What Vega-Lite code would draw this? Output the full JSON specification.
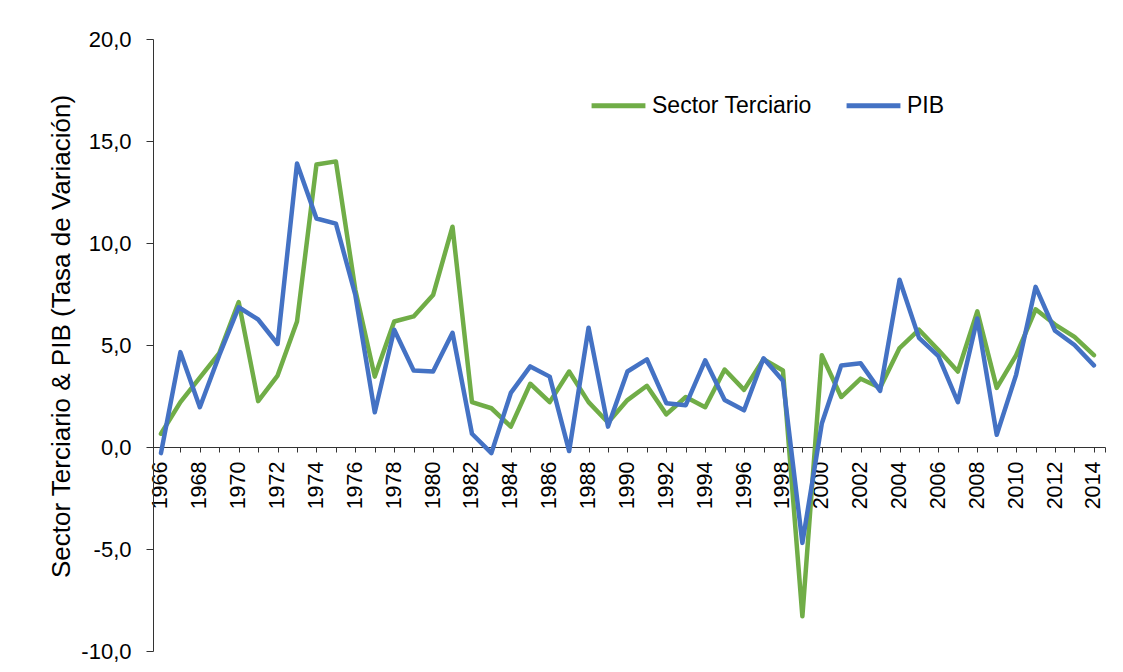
{
  "$schema": "https://vega.github.io/schema/vega-lite/v6.json",
  "width": 952,
  "height": 612,
  "autosize": {"type": "none"},
  "padding": {"left": 153, "top": 39, "right": 18, "bottom": 21},
  "background": "white",
  "config": {
    "view": {"stroke": null},
    "font": "Liberation Sans",
    "axis": {"grid": false, "domainColor": "#333333", "tickColor": "#333333", "labelColor": "#000000", "titleColor": "#000000", "labelFont": "Liberation Sans", "titleFont": "Liberation Sans", "titleFontWeight": "normal"}
  },
  "data": {"values": [
    {"year": 1966, "serie": "Sector Terciario", "valor": 0.65}, {"year": 1966, "serie": "PIB", "valor": -0.3},
    {"year": 1967, "serie": "Sector Terciario", "valor": 2.2}, {"year": 1967, "serie": "PIB", "valor": 4.65},
    {"year": 1968, "serie": "Sector Terciario", "valor": 3.4}, {"year": 1968, "serie": "PIB", "valor": 1.95},
    {"year": 1969, "serie": "Sector Terciario", "valor": 4.6}, {"year": 1969, "serie": "PIB", "valor": 4.5},
    {"year": 1970, "serie": "Sector Terciario", "valor": 7.1}, {"year": 1970, "serie": "PIB", "valor": 6.85},
    {"year": 1971, "serie": "Sector Terciario", "valor": 2.25}, {"year": 1971, "serie": "PIB", "valor": 6.25},
    {"year": 1972, "serie": "Sector Terciario", "valor": 3.5}, {"year": 1972, "serie": "PIB", "valor": 5.05},
    {"year": 1973, "serie": "Sector Terciario", "valor": 6.15}, {"year": 1973, "serie": "PIB", "valor": 13.9},
    {"year": 1974, "serie": "Sector Terciario", "valor": 13.85}, {"year": 1974, "serie": "PIB", "valor": 11.2},
    {"year": 1975, "serie": "Sector Terciario", "valor": 14.0}, {"year": 1975, "serie": "PIB", "valor": 10.95},
    {"year": 1976, "serie": "Sector Terciario", "valor": 7.7}, {"year": 1976, "serie": "PIB", "valor": 7.45},
    {"year": 1977, "serie": "Sector Terciario", "valor": 3.45}, {"year": 1977, "serie": "PIB", "valor": 1.7},
    {"year": 1978, "serie": "Sector Terciario", "valor": 6.15}, {"year": 1978, "serie": "PIB", "valor": 5.75},
    {"year": 1979, "serie": "Sector Terciario", "valor": 6.4}, {"year": 1979, "serie": "PIB", "valor": 3.75},
    {"year": 1980, "serie": "Sector Terciario", "valor": 7.45}, {"year": 1980, "serie": "PIB", "valor": 3.7},
    {"year": 1981, "serie": "Sector Terciario", "valor": 10.8}, {"year": 1981, "serie": "PIB", "valor": 5.6},
    {"year": 1982, "serie": "Sector Terciario", "valor": 2.2}, {"year": 1982, "serie": "PIB", "valor": 0.65},
    {"year": 1983, "serie": "Sector Terciario", "valor": 1.9}, {"year": 1983, "serie": "PIB", "valor": -0.3},
    {"year": 1984, "serie": "Sector Terciario", "valor": 1.0}, {"year": 1984, "serie": "PIB", "valor": 2.65},
    {"year": 1985, "serie": "Sector Terciario", "valor": 3.1}, {"year": 1985, "serie": "PIB", "valor": 3.95},
    {"year": 1986, "serie": "Sector Terciario", "valor": 2.2}, {"year": 1986, "serie": "PIB", "valor": 3.45},
    {"year": 1987, "serie": "Sector Terciario", "valor": 3.7}, {"year": 1987, "serie": "PIB", "valor": -0.2},
    {"year": 1988, "serie": "Sector Terciario", "valor": 2.2}, {"year": 1988, "serie": "PIB", "valor": 5.85},
    {"year": 1989, "serie": "Sector Terciario", "valor": 1.2}, {"year": 1989, "serie": "PIB", "valor": 1.0},
    {"year": 1990, "serie": "Sector Terciario", "valor": 2.3}, {"year": 1990, "serie": "PIB", "valor": 3.7},
    {"year": 1991, "serie": "Sector Terciario", "valor": 3.0}, {"year": 1991, "serie": "PIB", "valor": 4.3},
    {"year": 1992, "serie": "Sector Terciario", "valor": 1.6}, {"year": 1992, "serie": "PIB", "valor": 2.15},
    {"year": 1993, "serie": "Sector Terciario", "valor": 2.45}, {"year": 1993, "serie": "PIB", "valor": 2.05},
    {"year": 1994, "serie": "Sector Terciario", "valor": 1.95}, {"year": 1994, "serie": "PIB", "valor": 4.25},
    {"year": 1995, "serie": "Sector Terciario", "valor": 3.8}, {"year": 1995, "serie": "PIB", "valor": 2.3},
    {"year": 1996, "serie": "Sector Terciario", "valor": 2.8}, {"year": 1996, "serie": "PIB", "valor": 1.8},
    {"year": 1997, "serie": "Sector Terciario", "valor": 4.3}, {"year": 1997, "serie": "PIB", "valor": 4.35},
    {"year": 1998, "serie": "Sector Terciario", "valor": 3.75}, {"year": 1998, "serie": "PIB", "valor": 3.25},
    {"year": 1999, "serie": "Sector Terciario", "valor": -8.3}, {"year": 1999, "serie": "PIB", "valor": -4.7},
    {"year": 2000, "serie": "Sector Terciario", "valor": 4.5}, {"year": 2000, "serie": "PIB", "valor": 1.15},
    {"year": 2001, "serie": "Sector Terciario", "valor": 2.45}, {"year": 2001, "serie": "PIB", "valor": 4.0},
    {"year": 2002, "serie": "Sector Terciario", "valor": 3.35}, {"year": 2002, "serie": "PIB", "valor": 4.1},
    {"year": 2003, "serie": "Sector Terciario", "valor": 2.9}, {"year": 2003, "serie": "PIB", "valor": 2.75},
    {"year": 2004, "serie": "Sector Terciario", "valor": 4.85}, {"year": 2004, "serie": "PIB", "valor": 8.2},
    {"year": 2005, "serie": "Sector Terciario", "valor": 5.75}, {"year": 2005, "serie": "PIB", "valor": 5.35},
    {"year": 2006, "serie": "Sector Terciario", "valor": 4.75}, {"year": 2006, "serie": "PIB", "valor": 4.45},
    {"year": 2007, "serie": "Sector Terciario", "valor": 3.7}, {"year": 2007, "serie": "PIB", "valor": 2.2},
    {"year": 2008, "serie": "Sector Terciario", "valor": 6.65}, {"year": 2008, "serie": "PIB", "valor": 6.3},
    {"year": 2009, "serie": "Sector Terciario", "valor": 2.9}, {"year": 2009, "serie": "PIB", "valor": 0.6},
    {"year": 2010, "serie": "Sector Terciario", "valor": 4.5}, {"year": 2010, "serie": "PIB", "valor": 3.55},
    {"year": 2011, "serie": "Sector Terciario", "valor": 6.75}, {"year": 2011, "serie": "PIB", "valor": 7.85},
    {"year": 2012, "serie": "Sector Terciario", "valor": 6.0}, {"year": 2012, "serie": "PIB", "valor": 5.7},
    {"year": 2013, "serie": "Sector Terciario", "valor": 5.4}, {"year": 2013, "serie": "PIB", "valor": 5.0},
    {"year": 2014, "serie": "Sector Terciario", "valor": 4.5}, {"year": 2014, "serie": "PIB", "valor": 4.0}
  ]},
  "encoding": {
    "x": {
      "field": "year", "type": "quantitative",
      "scale": {"domain": [1965.59, 2014.57], "nice": false, "zero": false},
      "axis": {
        "title": null, "orient": "bottom", "offset": -204,
        "values": [1966,1967,1968,1969,1970,1971,1972,1973,1974,1975,1976,1977,1978,1979,1980,1981,1982,1983,1984,1985,1986,1987,1988,1989,1990,1991,1992,1993,1994,1995,1996,1997,1998,1999,2000,2001,2002,2003,2004,2005,2006,2007,2008,2009,2010,2011,2012,2013,2014,2014.57],
        "labelExpr": "datum.value % 2 == 0 ? format(datum.value, 'd') : ''",
        "labelAngle": 270, "labelAlign": "right", "labelBaseline": "middle",
        "labelFontSize": 21.5, "labelPadding": 9, "tickSize": 5,
        "labelOverlap": false, "labelFlush": false, "labelBound": false
      }
    },
    "y": {
      "field": "valor", "type": "quantitative",
      "scale": {"domain": [-10, 20], "nice": false},
      "axis": {
        "title": "Sector Terciario & PIB (Tasa de Variación)",
        "values": [-10, -5, 0, 5, 10, 15, 20],
        "labelExpr": "replace(replace(format(datum.value, '.1f'), '.', ','), '\u2212', '-')",
        "labelFontSize": 22, "labelPadding": 15, "tickSize": 7,
        "titleFontSize": 26, "titleX": -92, "titleY": 297, "titleAngle": 270,
        "titleAlign": "center", "titleBaseline": "middle"
      }
    },
    "color": {
      "field": "serie", "type": "nominal",
      "scale": {"domain": ["Sector Terciario", "PIB"], "range": ["#70AD47", "#4472C4"]},
      "legend": {
        "title": null, "orient": "none", "direction": "horizontal",
        "legendX": 436, "legendY": 37,
        "symbolType": "stroke", "symbolSize": 2900, "symbolStrokeWidth": 5,
        "labelFontSize": 23, "labelOffset": 4, "columnPadding": 24, "labelColor": "#000000"
      }
    }
  },
  "layer": [
    {
      "transform": [{"filter": "datum.serie == 'Sector Terciario'"}],
      "mark": {"type": "line", "strokeWidth": 4.5, "strokeJoin": "round", "strokeCap": "round"}
    },
    {
      "transform": [{"filter": "datum.serie == 'PIB'"}],
      "mark": {"type": "line", "strokeWidth": 4.5, "strokeJoin": "round", "strokeCap": "round"}
    }
  ]
}
